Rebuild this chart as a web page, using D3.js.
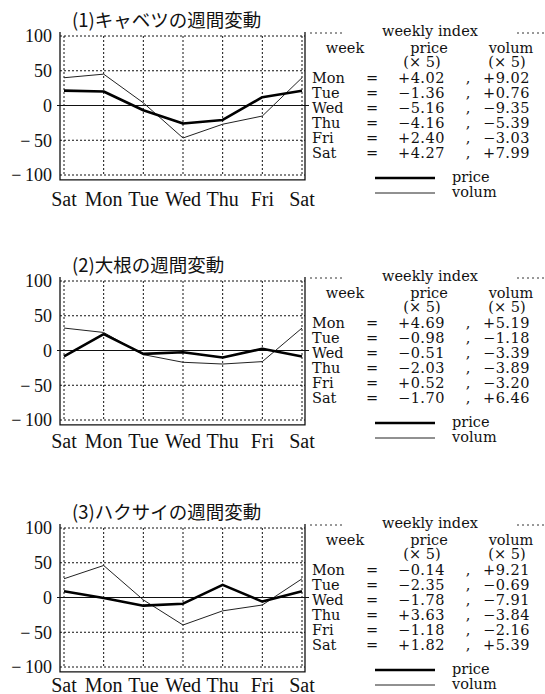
<!DOCTYPE html>
<html><head><meta charset="utf-8">
<script src="https://cdn.jsdelivr.net/npm/d3@7"></script>
<style>
body{margin:0;background:#fff;}
svg{display:block;}
.sf{font-family:"Liberation Serif","Tinos","Times New Roman","DejaVu Serif","Noto Serif",serif;}
.tf{font-family:"DejaVu Serif","Liberation Serif","Noto Serif",serif;}
.jp{font-family:"Noto Sans CJK JP","Noto Sans CJK SC",sans-serif;}
</style></head>
<body>
<svg id="c" width="545" height="694"></svg>
<script>
// ---- data ----
const axisDays = ["Sat","Mon","Tue","Wed","Thu","Fri","Sat"];
const tableDays = ["Mon","Tue","Wed","Thu","Fri","Sat"];
const yTicks = [100, 50, 0, -50, -100];
const titles = ["(1)キャベツの週間変動", "(2)大根の週間変動", "(3)ハクサイの週間変動"];
// weekly index (×5), Mon..Sat
const cabbagePrice = [4.02, -1.36, -5.16, -4.16, 2.40, 4.27];
const cabbageVolum = [9.02, 0.76, -9.35, -5.39, -3.03, 7.99];
const radishPrice  = [4.69, -0.98, -0.51, -2.03, 0.52, -1.70];
const radishVolum  = [5.19, -1.18, -3.39, -3.89, -3.20, 6.46];
const hakusaiPrice = [-0.14, -2.35, -1.78, 3.63, -1.18, 1.82];
const hakusaiVolum = [9.21, -0.69, -7.91, -3.84, -2.16, 5.39];
const multiplier = 5;

const panels = [
  {title: titles[0], price: cabbagePrice, volum: cabbageVolum},
  {title: titles[1], price: radishPrice, volum: radishVolum},
  {title: titles[2], price: hakusaiPrice, volum: hakusaiVolum}
];
// ---- layout ----
const offsets = [0, 245, 492];
const labelBase = [206, 203, 200];
const svg = d3.select("#c");
const fmt = v => (v >= 0 ? "+" : "\u2212") + Math.abs(v).toFixed(2);
const tickFmt = v => v < 0 ? "\u2212\u2009" + Math.abs(v) : String(v);

panels.forEach((p, i) => {
  const g = svg.append("g").attr("transform", `translate(0,${offsets[i]})`);
  const x = d3.scalePoint().domain(d3.range(axisDays.length)).range([64, 302]);
  const y = d3.scaleLinear().domain([-100, 100]).range([175, 36]);
  const left = 60, right = 305, bottom = y(-107), top = 32;

  // title
  g.append("text").attr("class", "jp").attr("x", 72).attr("y", 27)
    .style("font-size", "18.5px").attr("fill", "#111").text(p.title);

  // dotted grid
  const dot = "2,2";
  g.selectAll(".hg").data(yTicks.filter(t => t !== 0)).join("line")
    .attr("x1", left).attr("x2", right).attr("y1", d => y(d)).attr("y2", d => y(d))
    .attr("stroke", "#111").attr("stroke-width", 1).attr("stroke-dasharray", dot);
  g.selectAll(".vg").data(d3.range(axisDays.length)).join("line")
    .attr("x1", d => x(d)).attr("x2", d => x(d)).attr("y1", y(100)).attr("y2", y(-100) + 1)
    .attr("stroke", "#111").attr("stroke-width", 1).attr("stroke-dasharray", dot);

  // frame
  g.append("path").attr("d", `M${left},${top}V${bottom}H${right}V${top}`)
    .attr("fill", "none").attr("stroke", "#111").attr("stroke-width", 1.3);
  g.append("line").attr("x1", left - 3).attr("x2", right + 4).attr("y1", y(0)).attr("y2", y(0))
    .attr("stroke", "#111").attr("stroke-width", 1.2);

  // y axis labels
  const ya = d3.axisLeft(y).tickValues(yTicks).tickSize(0).tickPadding(8).tickFormat(tickFmt);
  const yg = g.append("g").attr("transform", `translate(${left},0)`).call(ya);
  yg.select(".domain").remove();
  yg.attr("font-family", null).attr("font-size", null);
  yg.selectAll("text").attr("class", "sf").style("font-size", "18px").attr("fill", "#111");

  // x labels
  g.selectAll(".xl").data(axisDays).join("text").attr("class", "sf")
    .attr("x", (d, j) => x(j)).attr("y", labelBase[i]).attr("text-anchor", "middle")
    .style("font-size", "20px").attr("fill", "#111").text(d => d);

  // lines
  const series = arr => [arr[5], ...arr].map(v => v * multiplier);
  const line = d3.line().x((d, j) => x(j)).y(d => y(d));
  g.append("path").datum(series(p.volum)).attr("d", line)
    .attr("fill", "none").attr("stroke", "#222").attr("stroke-width", 1);
  g.append("path").datum(series(p.price)).attr("d", line)
    .attr("fill", "none").attr("stroke", "#000").attr("stroke-width", 2.6).attr("stroke-linejoin", "round");

  // table
  const tf = (sel) => sel.attr("class", "tf").style("font-size", "14.5px").attr("fill", "#111");
  g.append("line").attr("x1", 310).attr("x2", 342).attr("y1", 33).attr("y2", 33)
    .attr("stroke", "#333").attr("stroke-dasharray", "2,3");
  g.append("line").attr("x1", 517).attr("x2", 545).attr("y1", 33).attr("y2", 33)
    .attr("stroke", "#333").attr("stroke-dasharray", "2,3");
  tf(g.append("text").attr("x", 430).attr("y", 36).attr("text-anchor", "middle").text("weekly index"));
  tf(g.append("text").attr("x", 345).attr("y", 53).attr("text-anchor", "middle").text("week"));
  tf(g.append("text").attr("x", 429).attr("y", 53).attr("text-anchor", "middle").text("price"));
  tf(g.append("text").attr("x", 511).attr("y", 53).attr("text-anchor", "middle").text("volum"));
  tf(g.append("text").attr("x", 422).attr("y", 67).attr("text-anchor", "middle").text("(× 5)"));
  tf(g.append("text").attr("x", 507).attr("y", 67).attr("text-anchor", "middle").text("(× 5)"));
  tableDays.forEach((d, j) => {
    const by = 83 + j * 15;
    tf(g.append("text").attr("x", 312).attr("y", by).text(d));
    tf(g.append("text").attr("x", 372).attr("y", by).attr("text-anchor", "middle").text("="));
    tf(g.append("text").attr("x", 398).attr("y", by).attr("letter-spacing", 0.5).text(fmt(p.price[j])));
    tf(g.append("text").attr("x", 468).attr("y", by).attr("text-anchor", "middle").text(","));
    tf(g.append("text").attr("x", 483).attr("y", by).attr("letter-spacing", 0.5).text(fmt(p.volum[j])));
  });
  // legend
  g.append("line").attr("x1", 375).attr("x2", 435).attr("y1", 178).attr("y2", 178)
    .attr("stroke", "#000").attr("stroke-width", 2.6);
  g.append("line").attr("x1", 375).attr("x2", 435).attr("y1", 193).attr("y2", 193)
    .attr("stroke", "#222").attr("stroke-width", 1);
  tf(g.append("text").attr("x", 452).attr("y", 182).text("price"));
  tf(g.append("text").attr("x", 452).attr("y", 197).text("volum"));
});
</script>
</body></html>
